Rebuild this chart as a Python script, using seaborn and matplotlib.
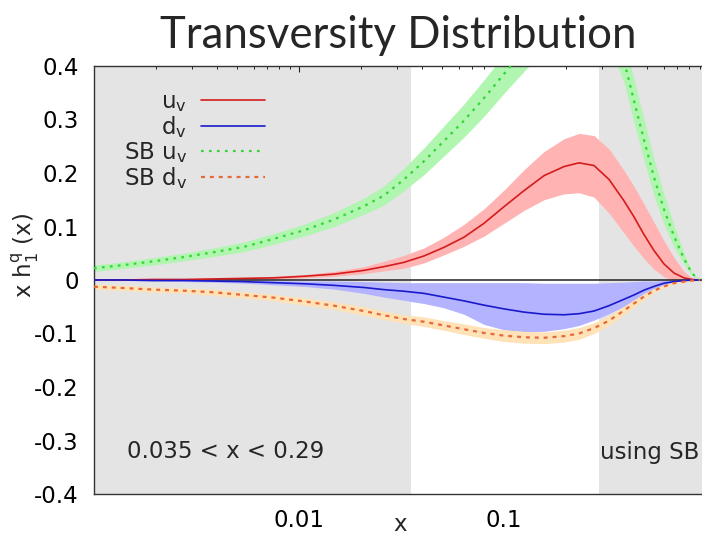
import numpy as np
import pandas as pd
import matplotlib
matplotlib.use("Agg")
import matplotlib.pyplot as plt
import seaborn as sns
from matplotlib.ticker import AutoMinorLocator, LogLocator, NullFormatter, FixedLocator, FixedFormatter

# Bjorken x grid (log spaced)
x_vals = [0.00100, 0.00140, 0.00196, 0.00275, 0.00385, 0.00539, 0.00755, 0.01058,
          0.01482, 0.02075, 0.02598, 0.03253, 0.04073, 0.05097, 0.06381, 0.07989,
          0.1000, 0.1252, 0.1567, 0.1962, 0.2322, 0.2748, 0.3253, 0.3849, 0.4306,
          0.4818, 0.5392, 0.6033, 0.6750, 0.7551, 0.8263, 0.9040]

# u_v transversity: central value and error band
uv_mid = [0.000, 0.000, 0.001, 0.001, 0.002, 0.003, 0.004, 0.007, 0.011, 0.018,
          0.025, 0.033, 0.045, 0.061, 0.080, 0.106, 0.137, 0.167, 0.195, 0.212,
          0.219, 0.214, 0.188, 0.148, 0.118, 0.085, 0.055, 0.030, 0.013, 0.004,
          0.001, 0.000]
uv_hi = [0.001, 0.001, 0.002, 0.002, 0.003, 0.005, 0.007, 0.010, 0.016, 0.025,
         0.035, 0.046, 0.060, 0.080, 0.104, 0.133, 0.168, 0.206, 0.240, 0.264,
         0.274, 0.270, 0.245, 0.205, 0.175, 0.142, 0.108, 0.073, 0.042, 0.016,
         0.004, 0.000]
uv_lo = [-0.001, -0.001, 0.000, 0.000, 0.001, 0.001, 0.002, 0.004, 0.007, 0.012,
         0.017, 0.022, 0.032, 0.047, 0.063, 0.082, 0.106, 0.130, 0.150, 0.161,
         0.163, 0.155, 0.125, 0.088, 0.063, 0.040, 0.020, 0.006, -0.002, -0.004,
         -0.002, 0.000]

# d_v transversity
dv_mid = [0.000, 0.000, -0.001, -0.001, -0.002, -0.003, -0.005, -0.007, -0.010, -0.014,
          -0.018, -0.021, -0.025, -0.032, -0.039, -0.047, -0.054, -0.060, -0.064, -0.065,
          -0.063, -0.058, -0.048, -0.036, -0.028, -0.019, -0.012, -0.006, -0.003, -0.001,
          0.000, 0.000]
dv_hi = [0.000, 0.000, 0.000, 0.000, -0.001, -0.001, -0.001, -0.002, -0.002, -0.003,
         -0.004, -0.005, -0.005, -0.005, -0.005, -0.005, -0.005, -0.005, -0.006, -0.006,
         -0.006, -0.006, -0.005, -0.004, -0.003, -0.002, -0.002, -0.001, -0.001, 0.000,
         0.000, 0.000]
dv_lo = [-0.001, -0.001, -0.002, -0.003, -0.004, -0.006, -0.009, -0.012, -0.017, -0.025,
         -0.032, -0.038, -0.044, -0.052, -0.064, -0.083, -0.093, -0.097, -0.096, -0.091,
         -0.085, -0.075, -0.063, -0.049, -0.039, -0.027, -0.017, -0.009, -0.004, -0.001,
         0.000, 0.000]

# Soffer bound for u_v
sbu_mid = [0.022, 0.028, 0.035, 0.043, 0.052, 0.062, 0.077, 0.093, 0.113, 0.138,
           0.158, 0.188, 0.222, 0.260, 0.298, 0.340, 0.385, 0.430, 0.470, 0.500,
           0.515, 0.515, 0.480, 0.410, 0.335, 0.262, 0.192, 0.132, 0.082, 0.040,
           0.012, 0.000]
sbu_hi = [0.028, 0.034, 0.042, 0.050, 0.060, 0.071, 0.087, 0.104, 0.126, 0.153,
          0.176, 0.209, 0.247, 0.288, 0.329, 0.374, 0.421, 0.470, 0.510, 0.540,
          0.555, 0.557, 0.520, 0.450, 0.375, 0.300, 0.226, 0.160, 0.102, 0.050,
          0.015, 0.000]
sbu_lo = [0.016, 0.022, 0.028, 0.036, 0.044, 0.053, 0.067, 0.082, 0.100, 0.123,
          0.140, 0.167, 0.197, 0.232, 0.267, 0.306, 0.349, 0.390, 0.430, 0.460,
          0.475, 0.473, 0.440, 0.370, 0.295, 0.224, 0.158, 0.104, 0.062, 0.030,
          0.009, 0.000]

# Soffer bound for d_v
sbd_mid = [-0.0125, -0.015, -0.018, -0.020, -0.023, -0.028, -0.033, -0.040, -0.048, -0.058,
           -0.066, -0.073, -0.078, -0.085, -0.092, -0.099, -0.104, -0.107, -0.108, -0.105,
           -0.100, -0.090, -0.076, -0.057, -0.044, -0.031, -0.020, -0.012, -0.006, -0.003,
           -0.001, 0.000]
sbd_hi = [-0.0075, -0.010, -0.013, -0.015, -0.017, -0.022, -0.027, -0.033, -0.041, -0.050,
          -0.058, -0.065, -0.069, -0.076, -0.082, -0.089, -0.093, -0.096, -0.097, -0.094,
          -0.089, -0.080, -0.067, -0.049, -0.037, -0.025, -0.016, -0.009, -0.004, -0.002,
          -0.001, 0.000]
sbd_lo = [-0.0175, -0.020, -0.023, -0.025, -0.029, -0.034, -0.039, -0.047, -0.055, -0.066,
          -0.074, -0.081, -0.087, -0.094, -0.102, -0.109, -0.115, -0.118, -0.119, -0.116,
          -0.111, -0.100, -0.085, -0.065, -0.051, -0.037, -0.024, -0.015, -0.008, -0.004,
          -0.001, 0.000]

# constrained x range and labels
x_range_lo, x_range_hi = 0.035, 0.29
ytick_vals = [-0.4, -0.3, -0.2, -0.1, 0.0, 0.1, 0.2, 0.3, 0.4]
ytick_text = ["-0.4", "-0.3", "-0.2", "-0.1", "0", "0.1", "0.2", "0.3", "0.4"]
xtick_vals = [0.01, 0.1]
xtick_text = ["0.01", "0.1"]

sns.set_style("white")
plt.rcParams["font.family"] = ["DejaVu Sans"]
plt.rcParams["mathtext.fontset"] = "dejavusans"

W, H = 702, 538
fig = plt.figure(figsize=(W / 100, H / 100), dpi=100)
ax = fig.add_axes([94 / W, (H - 494) / H, (702 - 94) / W, (494 - 66) / H])

ax.set_xscale("log")
ax.set_xlim(0.001, 0.9245)
ax.set_ylim(-0.4, 0.4)

grey = "#e4e4e4"
ax.axvspan(0.0001, x_range_lo, color=grey, lw=0, zorder=0)
ax.axvspan(x_range_hi, 10, color=grey, lw=0, zorder=0)

series = [
    ("u$_\\mathregular{v}$", uv_mid, uv_lo, uv_hi, "#d41c1c", "#ffb3b3", "-"),
    ("d$_\\mathregular{v}$", dv_mid, dv_lo, dv_hi, "#1a1acc", "#b3b3ff", "-"),
    ("SB u$_\\mathregular{v}$", sbu_mid, sbu_lo, sbu_hi, "#33d633", "#b0f5b0", (0, (1.2, 2.4))),
    ("SB d$_\\mathregular{v}$", sbd_mid, sbd_lo, sbd_hi, "#e56a3a", "#ffe2b8", (0, (1.8, 2.2))),
]

# error bands first, then central lines on top
for i, (name, mid, lo, hi, lc, fc, ls) in enumerate(series):
    ax.fill_between(x_vals, lo, hi, color=fc, lw=0, zorder=1 + i * 0.1)

ax.axhline(0, color="#222222", lw=1.1, zorder=2)

handles = []
for name, mid, lo, hi, lc, fc, ls in series:
    df = pd.DataFrame({"x": x_vals, "y": mid})
    sns.lineplot(data=df, x="x", y="y", ax=ax, color=lc, linestyle=ls,
                 lw=1.2 if ls == "-" else 1.6, label=name, zorder=3, legend=False)
    handles.append(ax.get_lines()[-1])

leg = ax.legend(handles, [s[0] for s in series], loc="upper right",
                bbox_to_anchor=((265 - 94) / 608, (494 - 90) / 428),
                frameon=False, markerfirst=False, fontsize=16.5,
                handlelength=2.8, handletextpad=0.6, labelspacing=0.0,
                borderpad=0, borderaxespad=0)

ax.yaxis.set_major_locator(FixedLocator(ytick_vals))
ax.yaxis.set_major_formatter(FixedFormatter(ytick_text))
ax.yaxis.set_minor_locator(AutoMinorLocator(3))
ax.xaxis.set_major_locator(FixedLocator(xtick_vals))
ax.xaxis.set_major_formatter(FixedFormatter(xtick_text))
ax.xaxis.set_minor_locator(LogLocator(base=10, subs=np.arange(2, 10), numticks=20))
ax.xaxis.set_minor_formatter(NullFormatter())

ax.tick_params(which="both", direction="in", top=True, right=False,
               labelsize=16.5, colors="#222222", labelcolor="black")
ax.tick_params(which="major", length=4, width=0.8, pad=11)
ax.tick_params(which="minor", length=2.5, width=0.7)

for side in ("left", "bottom", "top"):
    ax.spines[side].set_color("#333333")
    ax.spines[side].set_linewidth(1.0)
ax.spines["right"].set_visible(False)

ax.set_xlabel("x", fontsize=16.5)
ax.xaxis.set_label_coords((400 - 94) / 608, -0.045)
ax.set_ylabel("x h$_\\mathregular{1}^\\mathregular{q}$ (x)", fontsize=16.5)
ax.yaxis.set_label_coords((41 - 94) / 608, (494 - 255) / 428)

ax.set_title("Transversity Distribution", fontsize=31.5, family="Lato", pad=13)

ax.text(0.055, (494 - 452) / 428, "0.035 < x < 0.29", transform=ax.transAxes,
        fontsize=16.5, va="center", ha="left")
ax.text(0.995, (494 - 452) / 428, "using SB", transform=ax.transAxes,
        fontsize=16.5, va="center", ha="right")

fig.savefig("out.png", dpi=100)
